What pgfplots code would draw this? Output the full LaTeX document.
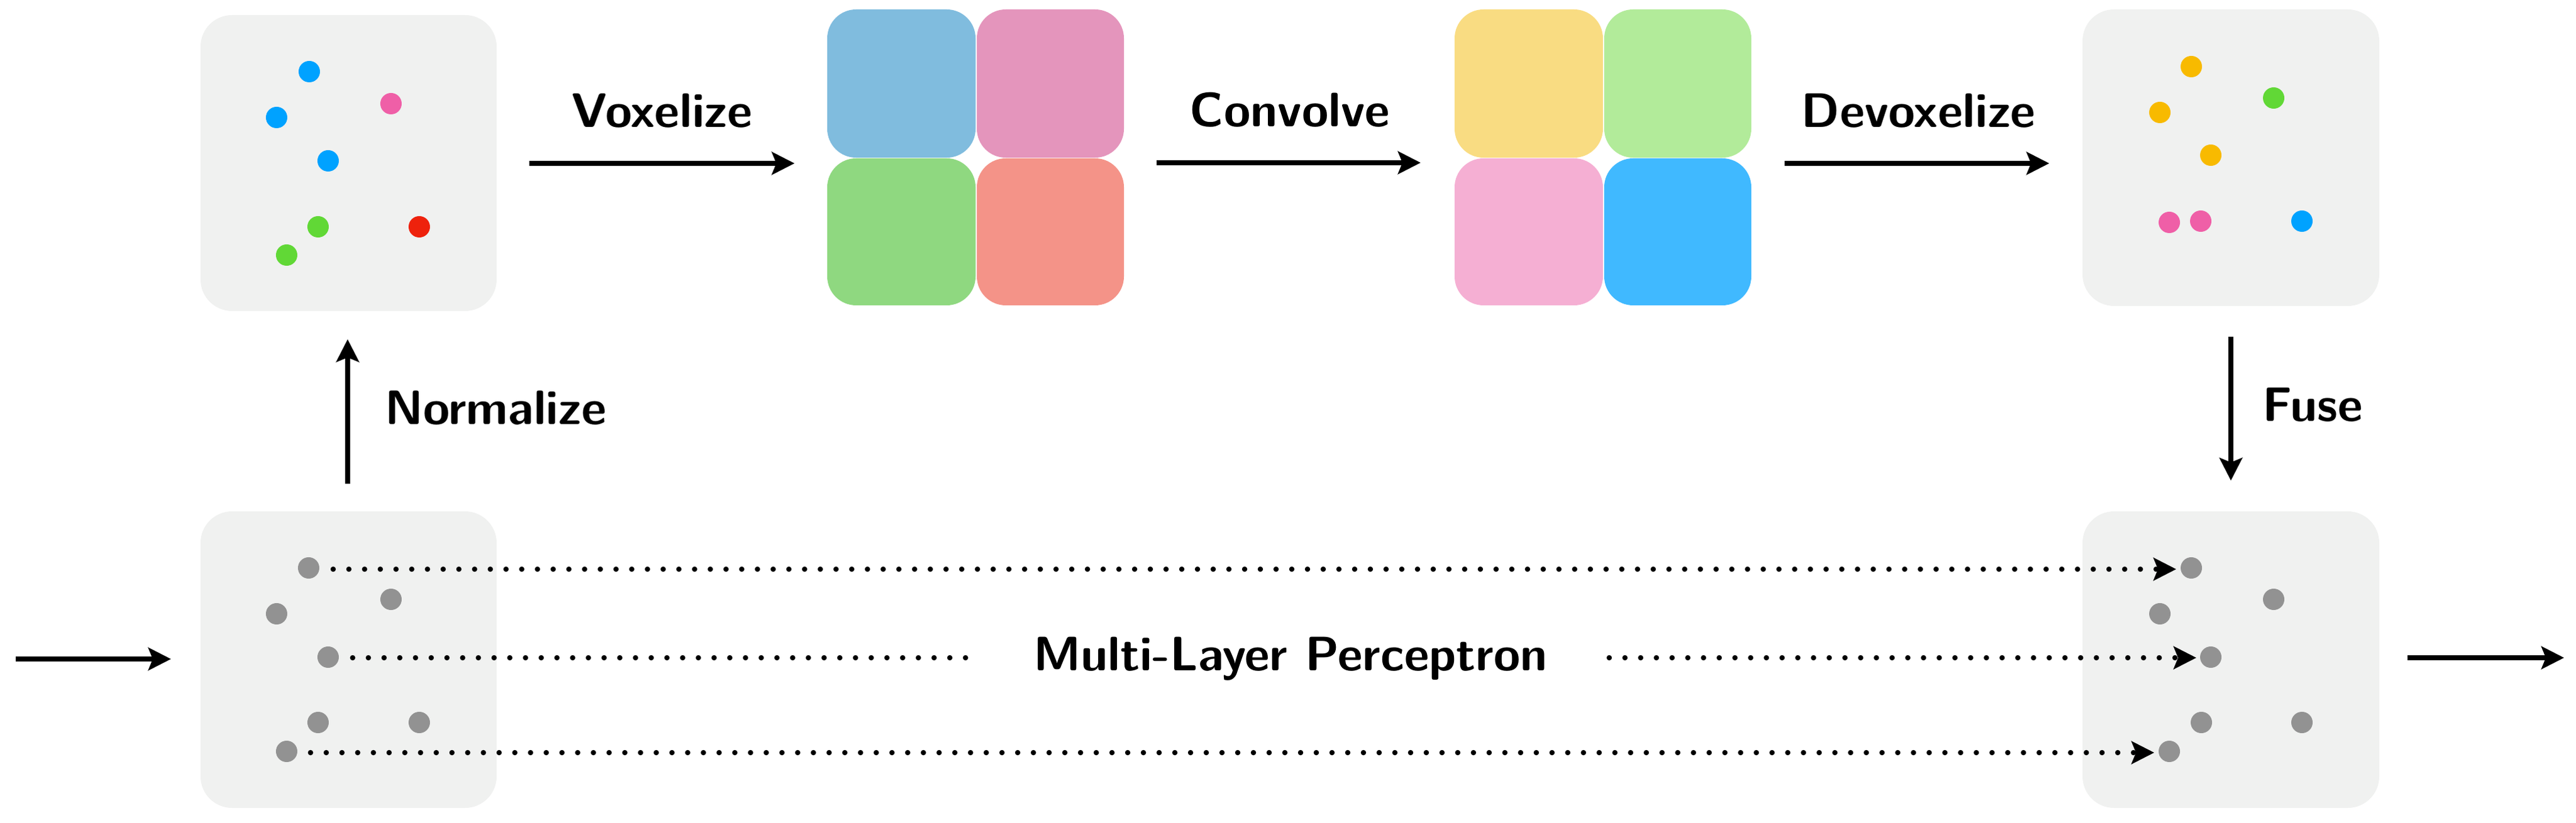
\documentclass[border=0pt]{standalone}
\usepackage{pgfplots}
\pgfplotsset{compat=1.18}
\usetikzlibrary{arrows.meta}
\definecolor{boxgray}{RGB}{240,241,240}
\definecolor{pblue}{RGB}{0,162,255}
\definecolor{ppink}{RGB}{239,95,167}
\definecolor{pgreen}{RGB}{97,216,54}
\definecolor{pred}{RGB}{238,34,12}
\definecolor{pyellow}{RGB}{248,186,0}
\definecolor{pgray}{RGB}{146,146,146}
\definecolor{vA}{RGB}{128,188,222}
\definecolor{vB}{RGB}{228,149,188}
\definecolor{vC}{RGB}{143,216,128}
\definecolor{vD}{RGB}{244,147,136}
\definecolor{wA}{RGB}{249,220,130}
\definecolor{wB}{RGB}{178,235,154}
\definecolor{wC}{RGB}{245,175,211}
\definecolor{wD}{RGB}{64,185,255}
\tikzset{lbl/.style={font={\fontsize{7.7}{9}\selectfont\sffamily\bfseries}, inner sep=0pt}}
\begin{document}
\begin{tikzpicture}
\begin{axis}[
  scale only axis, width=409.8pt, height=131pt,
  xmin=0, xmax=4098, ymin=0, ymax=1310, y dir=reverse,
  hide axis, clip=false,
  arr/.style={-{Stealth[length=3.6pt,width=3.6pt,inset=0.7pt]}, line width=0.8pt, black},
  dotl/.style={line width=0.85pt, black, line cap=round, dash pattern=on 0pt off 2.5pt},
  pt/.style={only marks, mark=*, mark size=1.55pt, mark options={line width=0.3pt}},
]
\path (axis cs:0,0) rectangle (axis cs:4098,1310);
% boxes
\fill[boxgray, rounded corners=5pt] (axis cs:319,24) rectangle (axis cs:790,495);
\fill[boxgray, rounded corners=5pt] (axis cs:3313,15) rectangle (axis cs:3785,487);
\fill[boxgray, rounded corners=5pt] (axis cs:319,814) rectangle (axis cs:790,1286);
\fill[boxgray, rounded corners=5pt] (axis cs:3313,814) rectangle (axis cs:3785,1286);
% voxel grid 1
\fill[vA, rounded corners=4.6pt] (axis cs:1316,15) rectangle (axis cs:1552,251);
\fill[vB, rounded corners=4.6pt] (axis cs:1554,15) rectangle (axis cs:1788,251);
\fill[vC, rounded corners=4.6pt] (axis cs:1316,252) rectangle (axis cs:1552,486);
\fill[vD, rounded corners=4.6pt] (axis cs:1554,252) rectangle (axis cs:1788,486);
% voxel grid 2
\fill[wA, rounded corners=4.6pt] (axis cs:2314,15) rectangle (axis cs:2550,251);
\fill[wB, rounded corners=4.6pt] (axis cs:2552,15) rectangle (axis cs:2786,251);
\fill[wC, rounded corners=4.6pt] (axis cs:2314,252) rectangle (axis cs:2550,486);
\fill[wD, rounded corners=4.6pt] (axis cs:2552,252) rectangle (axis cs:2786,486);
% points box 1
\addplot[pt, pblue] coordinates {(492,114) (440,187) (522,256)};
\addplot[pt, ppink] coordinates {(622,165)};
\addplot[pt, pgreen] coordinates {(506,361) (456,406)};
\addplot[pt, pred] coordinates {(667,361)};
% points box 4
\addplot[pt, pyellow] coordinates {(3486,106) (3436,179) (3517,247)};
\addplot[pt, pgreen] coordinates {(3617,156)};
\addplot[pt, ppink] coordinates {(3451,354) (3501,352)};
\addplot[pt, pblue] coordinates {(3662,352)};
% gray points
\addplot[pt, pgray] coordinates {(491,904) (622,954) (440,977) (522,1046) (506,1150) (667,1150) (456,1196)};
\addplot[pt, pgray] coordinates {(3486,904) (3617,954) (3436,977) (3517,1046) (3502,1150) (3662,1150) (3451,1196)};
% arrows
\addplot[arr] coordinates {(842,260) (1264,260)};
\addplot[arr] coordinates {(1840,259) (2260,259)};
\addplot[arr] coordinates {(2839,260) (3260,260)};
\addplot[arr] coordinates {(553,770) (553,540)};
\addplot[arr] coordinates {(3549,536) (3549,765)};
\addplot[arr] coordinates {(25,1049) (272,1049)};
\addplot[arr] coordinates {(3830,1047) (4079,1047)};
% dotted
\addplot[dotl, -{Stealth[length=3.6pt,width=3.6pt,inset=0.7pt]}] coordinates {(530,906) (3462,906)};
\addplot[dotl] coordinates {(561,1047) (1540,1047)};
\addplot[dotl, -{Stealth[length=3.6pt,width=3.6pt,inset=0.7pt]}] coordinates {(2560,1047) (3494,1047)};
\addplot[dotl, -{Stealth[length=3.6pt,width=3.6pt,inset=0.7pt]}] coordinates {(494,1198) (3427,1198)};
% labels
\node[lbl, anchor=base] at (axis cs:1053,203) {Voxelize};
\node[lbl, anchor=base] at (axis cs:2052,202) {Convolve};
\node[lbl, anchor=base] at (axis cs:3052,203) {Devoxelize};
\node[lbl, anchor=base west] at (axis cs:610,675) {Normalize};
\node[lbl, anchor=base west] at (axis cs:3597,670) {Fuse};
\node[lbl, anchor=base] at (axis cs:2053,1068) {Multi-Layer Perceptron};
\end{axis}
\end{tikzpicture}
\end{document}
